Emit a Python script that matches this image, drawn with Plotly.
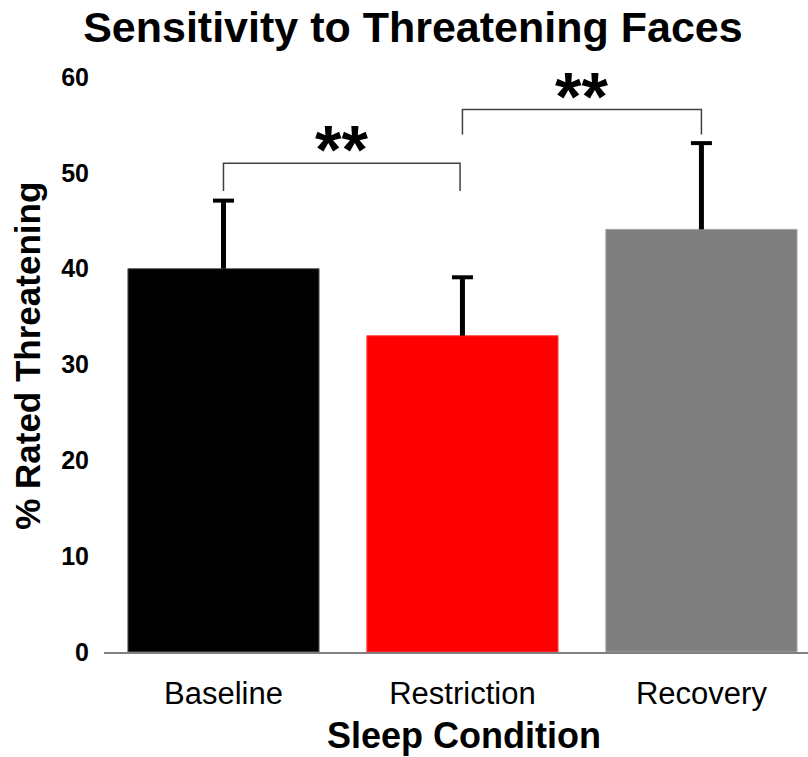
import plotly.graph_objects as go

# Sleep condition means and upper error (SEM) for % faces rated threatening
conditions = ["Baseline", "Restriction", "Recovery"]
pct_threatening = [40.0, 33.0, 44.1]
err_upper = [7.1, 6.1, 9.0]
bar_colors = ["#000000", "#ff0000", "#7f7f7f"]
edge_colors = ["#606060", "#ff4040", "#a6a6a6"]

# Significance brackets: (left category index, right category index, low y, high y, label)
brackets = [
    (0, 0.99, 48.1, 51.0, "**"),
    (1.0, 2.0, 54.0, 56.6, "**"),
]
y_ticks = [0, 10, 20, 30, 40, 50, 60]

FONT = "Liberation Sans, Arial, sans-serif"
xs = list(range(len(conditions)))

fig = go.Figure()
fig.add_trace(go.Bar(
    x=xs,
    y=pct_threatening,
    width=0.8,
    marker=dict(color=bar_colors, line=dict(color=edge_colors, width=1)),
    cliponaxis=False,
))

# One-sided error bars: a stem from each bar top plus a cap at the upper end
stem_x, stem_y = [], []
for x, v, e in zip(xs, pct_threatening, err_upper):
    stem_x += [x, x, None]
    stem_y += [v, v + e, None]
fig.add_trace(go.Scatter(
    x=stem_x, y=stem_y, mode="lines",
    line=dict(color="#000000", width=5),
    hoverinfo="skip", cliponaxis=False,
))
fig.add_trace(go.Scatter(
    x=xs, y=[v + e for v, e in zip(pct_threatening, err_upper)],
    mode="markers",
    marker=dict(symbol="line-ew", size=15, line=dict(color="#000000", width=4)),
    hoverinfo="skip", cliponaxis=False,
))

shapes = []
annotations = []
for x0, x1, ylo, yhi, label in brackets:
    shapes.append(dict(
        type="path", xref="x", yref="y",
        path=f"M {x0},{ylo} L {x0},{yhi} L {x1},{yhi} L {x1},{ylo}",
        line=dict(color="#404040", width=1.5),
    ))
    annotations.append(dict(
        x=(x0 + x1) / 2, y=yhi, xref="x", yref="y",
        text=f"<b>{label}</b>", showarrow=False,
        yanchor="bottom", yshift=-26,
        font=dict(family=FONT, size=68, color="#000000"),
    ))

# Y axis title placed as a rotated label left of the tick labels
annotations.append(dict(
    x=-0.108, y=0.515, xref="paper", yref="paper",
    text="<b>% Rated Threatening</b>", showarrow=False, textangle=-90,
    xanchor="center", yanchor="middle",
    font=dict(family=FONT, size=35, color="#000000"),
))
# X axis title
annotations.append(dict(
    x=0.512, y=-0.145, xref="paper", yref="paper",
    text="<b>Sleep Condition</b>", showarrow=False,
    xanchor="center", yanchor="middle",
    font=dict(family=FONT, size=36, color="#000000"),
))

fig.update_layout(
    width=808, height=757,
    margin=dict(l=104, r=0, t=77, b=105),
    paper_bgcolor="white", plot_bgcolor="white",
    showlegend=False,
    title=dict(text="<b>Sensitivity to Threatening Faces</b>",
               x=0.511, xanchor="center", y=0.965, yanchor="middle",
               font=dict(family=FONT, size=43, color="#000000")),
    shapes=shapes,
    annotations=annotations,
    xaxis=dict(
        range=[-0.5, 2.446],
        tickvals=xs,
        ticktext=conditions,
        tickfont=dict(family=FONT, size=31, color="#000000"),
        ticklabelstandoff=13,
        showline=True, linecolor="#808080", linewidth=2,
        showgrid=False, zeroline=False, ticks="",
    ),
    yaxis=dict(
        range=[0, 60],
        tickvals=y_ticks,
        ticktext=[f"<b>{v}</b>" for v in y_ticks],
        tickfont=dict(family=FONT, size=25, color="#000000"),
        ticklabelstandoff=14,
        showline=False, showgrid=False, zeroline=False, ticks="",
    ),
)

fig.write_html("out.html")
